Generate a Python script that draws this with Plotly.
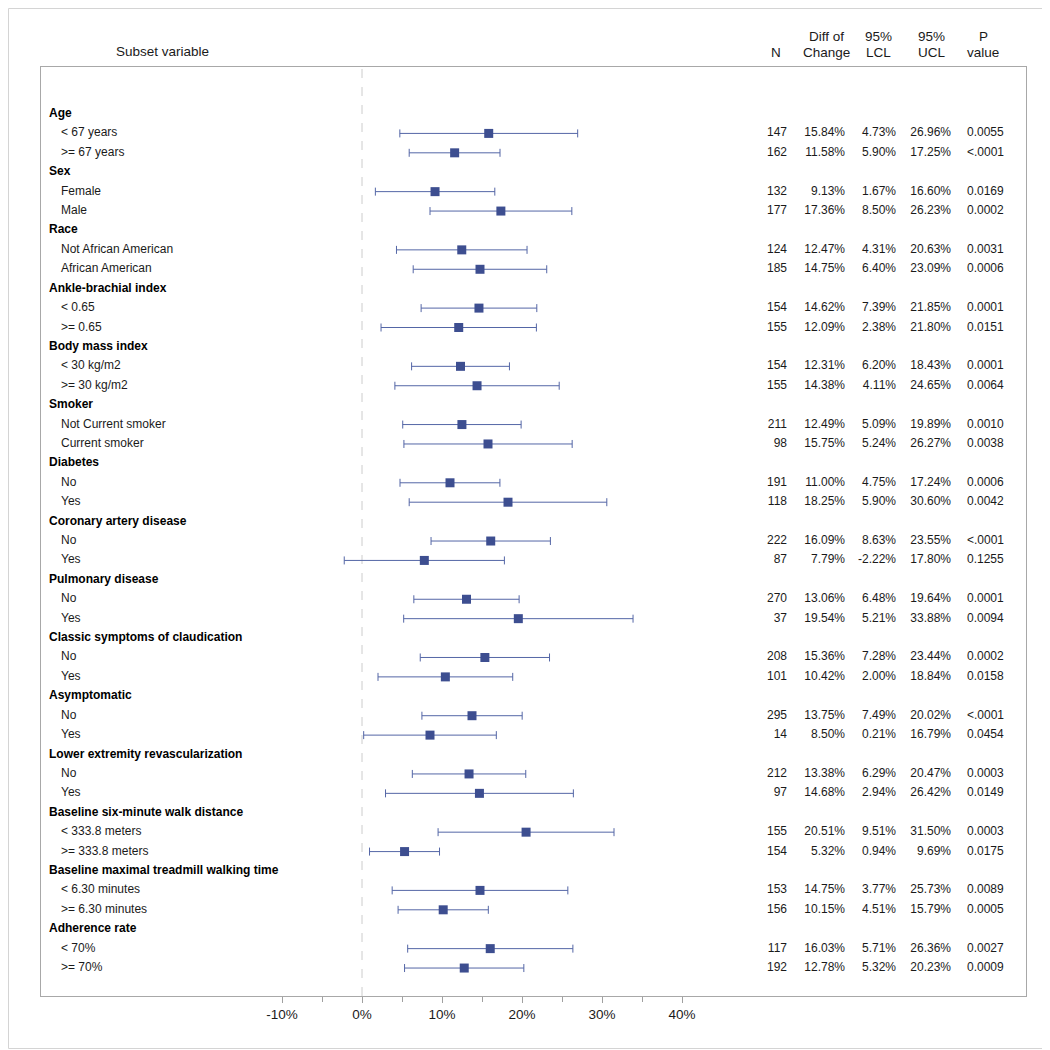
import plotly.graph_objects as go

# ---------------- data ----------------
groups = ["Age", "Sex", "Race", "Ankle-brachial index", "Body mass index", "Smoker",
          "Diabetes", "Coronary artery disease", "Pulmonary disease",
          "Classic symptoms of claudication", "Asymptomatic",
          "Lower extremity revascularization", "Baseline six-minute walk distance",
          "Baseline maximal treadmill walking time", "Adherence rate"]
subgroups = ["< 67 years", ">= 67 years", "Female", "Male", "Not African American",
             "African American", "< 0.65", ">= 0.65", "< 30 kg/m2", ">= 30 kg/m2",
             "Not Current smoker", "Current smoker", "No", "Yes", "No", "Yes", "No", "Yes",
             "No", "Yes", "No", "Yes", "No", "Yes", "< 333.8 meters", ">= 333.8 meters",
             "< 6.30 minutes", ">= 6.30 minutes", "< 70%", ">= 70%"]
n_vals = [147, 162, 132, 177, 124, 185, 154, 155, 154, 155, 211, 98, 191, 118, 222, 87,
          270, 37, 208, 101, 295, 14, 212, 97, 155, 154, 153, 156, 117, 192]
diff = [15.84, 11.58, 9.13, 17.36, 12.47, 14.75, 14.62, 12.09, 12.31, 14.38, 12.49, 15.75,
        11.00, 18.25, 16.09, 7.79, 13.06, 19.54, 15.36, 10.42, 13.75, 8.50, 13.38, 14.68,
        20.51, 5.32, 14.75, 10.15, 16.03, 12.78]
lcl = [4.73, 5.90, 1.67, 8.50, 4.31, 6.40, 7.39, 2.38, 6.20, 4.11, 5.09, 5.24, 4.75, 5.90,
       8.63, -2.22, 6.48, 5.21, 7.28, 2.00, 7.49, 0.21, 6.29, 2.94, 9.51, 0.94, 3.77, 4.51,
       5.71, 5.32]
ucl = [26.96, 17.25, 16.60, 26.23, 20.63, 23.09, 21.85, 21.80, 18.43, 24.65, 19.89, 26.27,
       17.24, 30.60, 23.55, 17.80, 19.64, 33.88, 23.44, 18.84, 20.02, 16.79, 20.47, 26.42,
       31.50, 9.69, 25.73, 15.79, 26.36, 20.23]
pvals = ["0.0055", "<.0001", "0.0169", "0.0002", "0.0031", "0.0006", "0.0001", "0.0151",
         "0.0001", "0.0064", "0.0010", "0.0038", "0.0006", "0.0042", "<.0001", "0.1255",
         "0.0001", "0.0094", "0.0002", "0.0158", "<.0001", "0.0454", "0.0003", "0.0149",
         "0.0003", "0.0175", "0.0089", "0.0005", "0.0027", "0.0009"]
tick_vals = [-10, 0, 10, 20, 30, 40]
minor_tick_vals = [-5, 5, 15, 25, 35]

# ---------------- layout helpers (page pixel coordinates) ----------------
OFF = 8                                     # browser body margin
W, H = 1050 - OFF, 1050 - OFF
PL, PR, PT, PB = 41, 1026, 67, 996          # plot area in page pixels
X0PX, PXPER = 362, 8.0                      # pixel of 0% and pixels per 1%
xmin = (PL - X0PX) / PXPER
xmax = (PR - X0PX) / PXPER
ROW0, ROWH = 114, 19.41
ytop = (PT - ROW0) / ROWH
ybot = (PB - ROW0) / ROWH


def xd(px):
    return (px - X0PX) / PXPER


def yp(py):
    return (PB - py) / (PB - PT)


def xp(px):
    return (px - PL) / (PR - PL)


# row positions
group_rows, sub_rows = [], []
r = 0
for g in groups:
    group_rows.append(r)
    sub_rows.extend([r + 1, r + 2])
    r += 3

FONT = "Liberation Sans, Arial, sans-serif"
TXT = "#1a1a1a"
MCOL = "#3D4E90"
LCOL = "#5466A6"

fig = go.Figure()

# forest points with CI
fig.add_trace(go.Scatter(
    x=diff, y=sub_rows, mode="markers",
    marker=dict(symbol="square", size=9, color=MCOL, line=dict(width=0)),
    error_x=dict(type="data", symmetric=False,
                 array=[u - d for u, d in zip(ucl, diff)],
                 arrayminus=[d - l for d, l in zip(diff, lcl)],
                 color=LCOL, thickness=1, width=4),
    hoverinfo="skip", showlegend=False))

# left labels
fig.add_trace(go.Scatter(
    x=[xd(49)] * len(groups), y=group_rows, mode="text", text=["<b>%s</b>" % g for g in groups],
    textposition="middle right", textfont=dict(family=FONT, size=12, color="#000"),
    hoverinfo="skip", showlegend=False, cliponaxis=False))
fig.add_trace(go.Scatter(
    x=[xd(61)] * len(subgroups), y=sub_rows, mode="text", text=subgroups,
    textposition="middle right", textfont=dict(family=FONT, size=12, color=TXT),
    hoverinfo="skip", showlegend=False, cliponaxis=False))

# value columns
cols = [
    ([str(v) for v in n_vals], 787, "middle left"),
    (["%.2f%%" % v for v in diff], 845, "middle left"),
    (["%.2f%%" % v for v in lcl], 896, "middle left"),
    (["%.2f%%" % v for v in ucl], 951, "middle left"),
    (pvals, 967, "middle right"),
]
for texts, px, pos in cols:
    fig.add_trace(go.Scatter(
        x=[xd(px)] * len(texts), y=sub_rows, mode="text", text=texts,
        textposition=pos, textfont=dict(family=FONT, size=12, color=TXT),
        hoverinfo="skip", showlegend=False, cliponaxis=False))

# headers
headers = [
    ("Subset variable", 162, 52),
    ("N", 776, 53),
    ("Diff of", 826, 36), ("Change", 826, 53),
    ("95%", 878, 36), ("LCL", 878, 53),
    ("95%", 931, 36), ("UCL", 931, 53),
    ("P", 983, 36), ("value", 983, 53),
]
annotations = []
for t, px, py in headers:
    annotations.append(dict(text=t, x=xp(px), y=yp(py), xref="paper", yref="paper",
                            xanchor="center", yanchor="middle", showarrow=False,
                            font=dict(family=FONT, size=13.5, color=TXT)))

shapes = [
    # zero reference line
    dict(type="line", xref="x", yref="paper", x0=0, x1=0, y0=0, y1=1,
         line=dict(color="#CCCCCC", width=1, dash="dash"), layer="below"),
    # outer image border
    dict(type="rect", xref="paper", yref="paper",
         x0=xp(OFF + 0.5), x1=xp(1048.5), y0=yp(1048.5), y1=yp(OFF + 0.5),
         line=dict(color="#D4D4D4", width=1), fillcolor="rgba(0,0,0,0)"),
]

fig.update_layout(
    width=W, height=H,
    margin=dict(l=PL - OFF, r=1050 - PR, t=PT - OFF, b=1050 - PB, pad=0),
    paper_bgcolor="white", plot_bgcolor="white",
    font=dict(family=FONT, color=TXT),
    annotations=annotations, shapes=shapes,
    xaxis=dict(range=[xmin, xmax], tickvals=tick_vals,
               ticktext=["%d%%" % v for v in tick_vals],
               ticks="outside", ticklen=6, tickcolor="#A0A0A0", tickwidth=1,
               minor=dict(tickvals=minor_tick_vals, ticks="outside", ticklen=5,
                          tickcolor="#A0A0A0", tickwidth=1, showgrid=False),
               showgrid=False, zeroline=False, showline=True, mirror=True,
               linecolor="#A8A8A8", linewidth=1,
               tickfont=dict(family=FONT, size=13.5, color=TXT), fixedrange=True),
    yaxis=dict(range=[ybot, ytop], showticklabels=False, ticks="", showgrid=False,
               zeroline=False, showline=True, mirror=True, linecolor="#A8A8A8",
               linewidth=1, fixedrange=True),
)

fig.write_html("out.html")
